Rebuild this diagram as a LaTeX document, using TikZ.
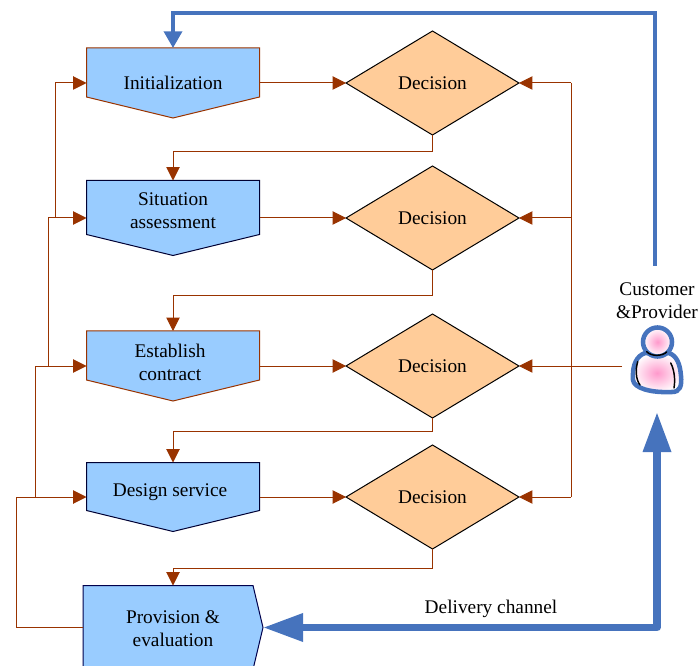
\documentclass[tikz,border=0pt]{standalone}
\usepackage{fontspec}
\setmainfont{Liberation Serif}
\usetikzlibrary{arrows.meta,shapes.geometric}
\definecolor{boxblue}{HTML}{99CCFF}
\definecolor{decorange}{HTML}{FFCC99}
\definecolor{flowbrown}{HTML}{993300}
\definecolor{linkblue}{HTML}{4673BD}
\definecolor{personpink}{HTML}{FF99CC}
% outline of a step: the node is only the frame, #2 is the colour of the line
\newcommand{\stepoutline}[2]{
   \draw[stepline,draw=#2] (#1.north west) -- (#1.north east) -- ([yshift=15.75pt]#1.south east) -- (#1.south) -- ([yshift=15.75pt]#1.south west) -- cycle;
}

\begin{document}
\begin{tikzpicture}[x=0.75pt,y=-0.75pt,
   stepbox/.style={inner sep=0,outer sep=0,minimum width=129.75pt},
   stepline/.style={fill=boxblue,line width=0.75pt},
   steptext/.style={align=center,font=\fontsize{14.5}{17.25}\selectfont},
   decbox/.style={draw=black,fill=decorange,diamond,aspect=1.66,inner sep=0,outer sep=0,line width=0.75pt,minimum width=129.75pt,minimum height=78pt,font=\fontsize{14.5}{17.25}\selectfont},
   flowline/.style={draw=flowbrown,line width=0.75pt},
   flowarrow/.style={flowline,-{Triangle[length=10pt,width=10pt]}},
   linkarrow/.style={draw=linkblue,line width=2.6pt,-{Triangle[length=12.5pt,width=13.5pt]}},
   channel/.style={draw=linkblue,line width=5.6pt,line join=round,{Triangle[length=30pt,width=20pt]}-{Triangle[length=30pt,width=20pt]}},
   personline/.style={draw=linkblue,line width=3.4pt,inner color=personpink,outer color=white},
   personmark/.style={draw=black,line width=1.1pt,line cap=round}]
   \useasboundingbox (0,0) rectangle (699,666);

   % steps
   \node[stepbox,minimum height=52.5pt] (init) at (173,83) {};
   \node[stepbox,minimum height=56.25pt] (sit) at (173,218) {};
   \node[stepbox,minimum height=52.5pt] (est) at (173,366) {};
   \node[stepbox,minimum height=51.75pt] (des) at (173,497) {};
   \node[stepbox,minimum width=135pt,minimum height=63pt] (prov) at (173,627.5) {};
   \stepoutline{init}{flowbrown}
   \stepoutline{sit}{black!80!blue}
   \stepoutline{est}{flowbrown}
   \stepoutline{des}{black!80!blue}
   \draw[stepline,draw=black!70!blue] (prov.north west) -- ([xshift=-7.5pt]prov.north east) -- (prov.east) -- ([xshift=-7.5pt]prov.south east) -- (prov.south west) -- cycle;
   \node[steptext] (initText) at (173,83) {Initialization};
   \node[steptext] (sitText) at (173,211) {Situation\\assessment};
   \node[steptext] (estText) at (170,362.5) {Establish\\contract};
   \node[steptext] (desText) at (170,492) {Design service};
   \node[steptext] (provText) at (173,628.5) {Provision \&\\evaluation};

   % decisions
   \node[decbox] (dec1) at (432.5,83) {Decision};
   \node[decbox] (dec2) at (432.5,218) {Decision};
   \node[decbox] (dec3) at (432.5,366) {Decision};
   \node[decbox] (dec4) at (432.5,497) {Decision};

   % forward flow
   \draw[flowarrow] (init.east) -- (dec1.west);
   \draw[flowarrow] (sit.east) -- (dec2.west);
   \draw[flowarrow] (est.east) -- (dec3.west);
   \draw[flowarrow] (des.east) -- (dec4.west);
   \draw[flowarrow] (dec1.south) -- ++(0,16.5) -| (sit.north);
   \draw[flowarrow] (dec2.south) -- ++(0,25.5) -| (est.north);
   \draw[flowarrow] (dec3.south) -- ++(0,13) -| (des.north);
   \draw[flowarrow] (dec4.south) -- ++(0,19) -| (prov.north);

   % return to the steps
   \coordinate (backA) at (16,497);
   \coordinate (backB) at (35,497);
   \coordinate (backC) at (48.5,366);
   \coordinate (backD) at (55.5,218);
   \draw[flowarrow] (prov.west) -| (backA) -- (des.west);
   \draw[flowarrow] (backB) |- (est.west);
   \draw[flowarrow] (backC) |- (sit.west);
   \draw[flowarrow] (backD) |- (init.west);

   % customer
   \node[steptext] (customer) at (657,300.5) {Customer\\\&Provider};
   \shadedraw[personline] (645,353) .. controls (637,356) and (632,364) .. (633,380) .. controls (634,388) and (650,393) .. (672,392) .. controls (680,392) and (682,386) .. (681,376) .. controls (680,364) and (677,356) .. (669,353) -- cycle;
   \shadedraw[personline] (657.5,342) circle (14.5);
   \draw[personmark] (646.7,351.7) .. controls (651,356.5) and (662,356.5) .. (666.7,352);
   \draw[personmark] (637.7,361.7) .. controls (635.5,369) and (635.5,379) .. (640,385);
   \draw[personmark] (670.7,363) .. controls (674,369) and (675.5,379) .. (674,388);
   \coordinate (custLeft) at (622,366);
   \coordinate (custTop) at (655,266);
   \coordinate (topCorner) at (655,13);
   \coordinate (custTip) at (657,412);
   \coordinate (busTop) at (571,83);
   \coordinate (busBottom) at (571,497);
   \draw[flowline] (busTop) -- (busBottom);
   \draw[flowarrow] (busTop) -- (dec1.east);
   \draw[flowarrow] (571,218) -- (dec2.east);
   \draw[flowarrow] (custLeft) -- (dec3.east);
   \draw[flowarrow] (busBottom) -- (dec4.east);

   % blue links
   \draw[linkarrow] (custTop) -- (topCorner) -| (init.north);
   \draw[channel] (prov.east) -| (custTip);
   \node[steptext] (delivery) at (491,608.5) {Delivery channel};
\end{tikzpicture}
\end{document}
